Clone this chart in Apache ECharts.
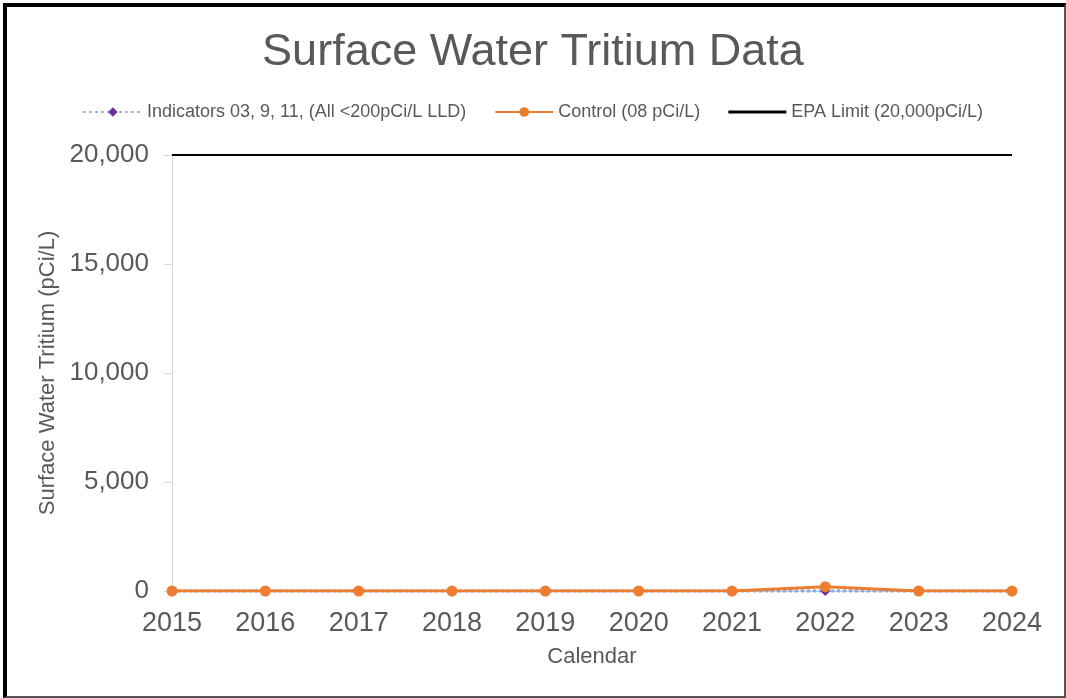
<!DOCTYPE html>
<html>
<head>
<meta charset="utf-8">
<script src="https://cdn.jsdelivr.net/npm/echarts@6/dist/echarts.min.js"></script>
<style>
  html, body { margin: 0; padding: 0; background: #fff; }
  #chart { position: absolute; left: 0; top: 0; width: 1066px; height: 698px; }
  #frame {
    position: absolute; left: 3px; top: 3px; width: 1057px; height: 689px;
    border-left: 4px solid #000; border-top: 4px solid #000;
    border-right: 2px solid #555; border-bottom: 2px solid #555;
    pointer-events: none;
  }
</style>
</head>
<body>
<div id="chart"></div>
<div id="frame"></div>
<script>
  "use strict";

  // Chart data
  var years = ["2015", "2016", "2017", "2018", "2019", "2020", "2021", "2022", "2023", "2024"];
  var indicatorValues = [0, 0, 0, 0, 0, 0, 0, 0, 0, 0];
  var controlValues = [0, 0, 0, 0, 0, 0, 0, 200, 0, 0];
  var epaLimitValues = [20000, 20000, 20000, 20000, 20000, 20000, 20000, 20000, 20000, 20000];
  var seriesNames = [
    "Indicators 03, 9, 11, (All <200pCi/L LLD)",
    "Control (08 pCi/L)",
    "EPA Limit (20,000pCi/L)"
  ];

  var textColor = "#595959";
  var font = "Liberation Sans, Arial, sans-serif";

  var chart = echarts.init(document.getElementById("chart"), null, { renderer: "canvas" });

  chart.setOption({
    animation: false,
    textStyle: { fontFamily: font },
    title: {
      text: "Surface Water Tritium Data",
      left: "center",
      top: 25,
      textStyle: { fontSize: 45, fontWeight: "normal", color: textColor, fontFamily: font }
    },
    legend: {
      top: 98,
      left: "center",
      itemWidth: 58,
      itemHeight: 12,
      itemGap: 28,
      textStyle: { fontSize: 18, color: textColor, fontFamily: font },
      data: [
        seriesNames[0],
        seriesNames[1],
        // plain line icon for the limit, it has no markers
        { name: seriesNames[2], icon: "path://M0,0 L58,0 L58,3 L0,3 Z" }
      ]
    },
    grid: { left: 172, right: 54, top: 155, bottom: 107, containLabel: false },
    xAxis: {
      type: "category",
      data: years,
      boundaryGap: false,
      name: "Calendar",
      nameLocation: "middle",
      nameGap: 55,
      nameTextStyle: { fontSize: 22, color: textColor },
      axisLine: { show: true, lineStyle: { color: "#d9d9d9", width: 1 } },
      axisTick: { show: false },
      axisLabel: { fontSize: 27, color: textColor, margin: 19 },
      splitLine: { show: false }
    },
    yAxis: {
      type: "value",
      min: 0,
      max: 20000,
      interval: 5000,
      name: "Surface Water Tritium (pCi/L)",
      nameLocation: "middle",
      nameGap: 113,
      nameTextStyle: { fontSize: 22, color: textColor },
      axisLine: { show: true, lineStyle: { color: "#d9d9d9", width: 1 } },
      axisTick: { show: true, length: 8, lineStyle: { color: "#d9d9d9" } },
      axisLabel: {
        fontSize: 26,
        color: textColor,
        margin: 23,
        formatter: function(v) { return v.toLocaleString("en-US"); }
      },
      splitLine: { show: false }
    },
    series: [
      {
        name: seriesNames[0],
        type: "line",
        data: indicatorValues,
        symbol: "diamond",
        symbolSize: 10,
        itemStyle: { color: "#7030a0" },
        lineStyle: { color: "#8faadc", width: 3.5, type: [1, 5], cap: "round" },
        z: 2
      },
      {
        name: seriesNames[1],
        type: "line",
        data: controlValues,
        symbol: "circle",
        symbolSize: 11,
        itemStyle: { color: "#ed7d31" },
        lineStyle: { color: "#ed7d31", width: 3 },
        z: 3
      },
      {
        name: seriesNames[2],
        type: "line",
        data: epaLimitValues,
        symbol: "none",
        itemStyle: { color: "#000" },
        lineStyle: { color: "#000", width: 2 },
        z: 4
      }
    ]
  });
</script>
</body>
</html>
